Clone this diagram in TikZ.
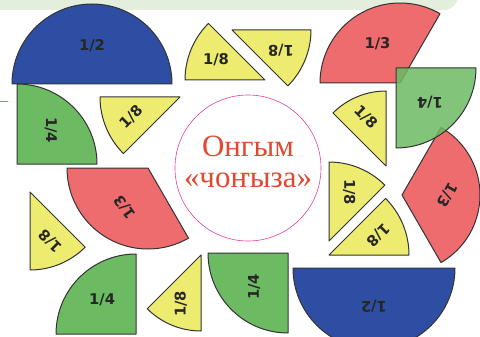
\documentclass[tikz,border=0pt]{standalone}
\usepackage{fontspec}
\setmainfont{Liberation Serif}
\newfontfamily\labelfont{DejaVu Sans}
\usepackage{tikz}
\usetikzlibrary{calc}

\definecolor{halfblue}{RGB}{46,78,163}
\definecolor{quartgreen}{RGB}{108,187,99}
\definecolor{thirdred}{RGB}{238,108,110}
\definecolor{eighthyellow}{RGB}{238,236,112}
\definecolor{bandgreen}{RGB}{227,238,220}
\definecolor{ringpink}{RGB}{228,64,160}
\definecolor{titlered}{RGB}{226,72,48}

% piece: [style](centre)(start:end:radius:label distance){name}{rotation}{label}
\def\piece[#1](#2)(#3:#4:#5:#6)#7#8#9{%
	\draw[#1] (#2) -- ++(#3:#5) arc[start angle=#3, end angle=#4, radius=#5*0.5mm] -- cycle;
	\node[piecelabel, rotate=#8] (#7) at ($(#2)+({(#3+#4)/2}:#6)$) {#9};}

\tikzset{
	piece/.style={draw=black!80, line width=0.5mm, line join=round},
	half/.style={piece, fill=halfblue},
	quarter/.style={piece, fill=quartgreen},
	third/.style={piece, fill=thirdred},
	eighth/.style={piece, fill=eighthyellow},
	piecelabel/.style={font=\labelfont\bfseries\fontsize{21}{21}\selectfont, text=black!85, inner sep=0pt}
}

\begin{document}
\begin{tikzpicture}[x=0.5mm, y=0.5mm]
			%%%%% START %%%%%
			\useasboundingbox (0, 0) rectangle (480, 336);
			
			\fill[bandgreen, rounded corners=20] (-20, 360) rectangle (458, 326);
			\draw[thirdred, line width=0.4mm] (0, 235) -- (8, 235);
			
			% top row
			\piece[half](92, 252)(0:180:80:38){halfA}{0}{1/2}
			\piece[eighth](265, 256)(135:180:80:53){eighthA}{0}{1/8}
			\piece[eighth](232, 306)(-45:0:79:53){eighthB}{180}{1/8}
			\piece[third](400, 253)(60:180:80:45){thirdA}{0}{1/3}
			\piece[third](402, 141)(-60:60:78:45){thirdB}{-120}{1/3}
			\piece[quarter, fill opacity=0.85](396, 268)(-90:0:80:48){quarterA}{180}{1/4}
			
			% left side
			\piece[quarter](17, 172)(0:90:80:48){quarterB}{-90}{1/4}
			\piece[eighth](180, 239)(180:225:80:53){eighthC}{45}{1/8}
			\piece[third](148, 168)(180:300:81:45){thirdC}{125}{1/3}
			\piece[eighth](30, 144)(-90:-45:78:53){eighthD}{135}{1/8}
			
			% right of the ring
			\piece[eighth](386, 170)(90:135:75:53){eighthE}{-45}{1/8}
			\piece[eighth](329, 95)(45:90:79:53){eighthF}{-90}{1/8}
			\piece[eighth](329, 81)(0:45:80:53){eighthG}{-135}{1/8}
			
			% bottom row
			\piece[quarter](136, 2)(90:180:80:48){quarterC}{0}{1/4}
			\piece[eighth](201, 81)(225:270:76:53){eighthH}{90}{1/8}
			\piece[quarter](288, 83)(180:270:80:48){quarterD}{90}{1/4}
			\piece[half](374, 68)(180:360:81:38){halfB}{180}{1/2}
			
			% ring in the middle
			\draw[ringpink, line width=0.3mm, fill=white] (248, 168) circle[radius=36.5mm];
			\node[text=titlered, font=\fontsize{44}{43}\selectfont, align=center] (title) at (248, 174) {Онгым\\«чоҥыза»};
			
			%%%%% END %%%%%
		\end{tikzpicture}
\end{document}
